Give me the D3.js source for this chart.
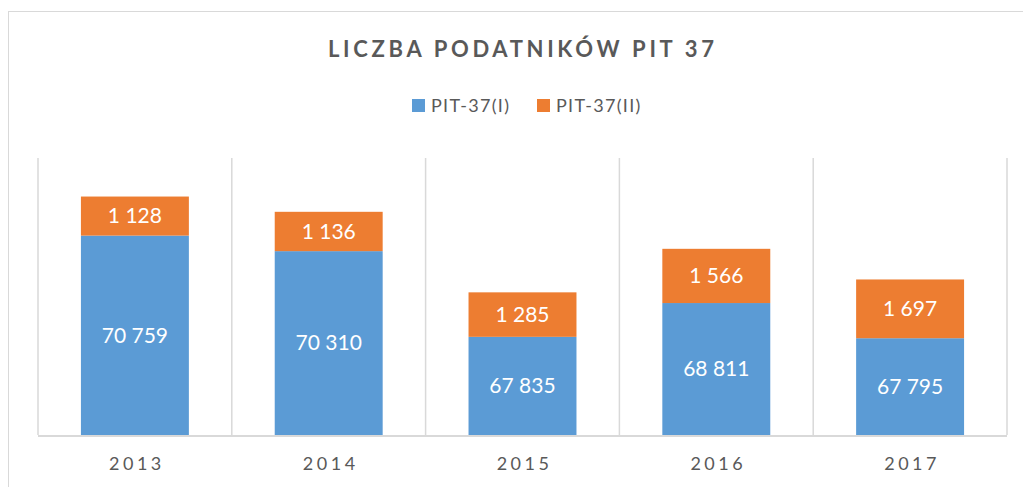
<!DOCTYPE html>
<html>
<head>
<meta charset="utf-8">
<script src="https://cdn.jsdelivr.net/npm/d3@7"></script>
<style>
  body { margin: 0; background: #fff; }
  svg { display: block; font-family: Lato, "Open Sans", sans-serif; }
</style>
</head>
<body>
<svg id="chart" width="1023" height="487"></svg>
<script>
var years = ["2013", "2014", "2015", "2016", "2017"];
var pit37I = [70759, 70310, 67835, 68811, 67795];
var pit37II = [1128, 1136, 1285, 1566, 1697];
var seriesNames = ["PIT-37(I)", "PIT-37(II)"];
var colors = ["#5B9BD5", "#ED7D31"];
var yDomain = [65000, 73000];

var svg = d3.select("#chart");
var W = 1023, H = 487;

// chart frame
svg.append("rect")
    .attr("x", 8.5).attr("y", 11.5)
    .attr("width", W + 10).attr("height", H + 10)
    .attr("fill", "#fff")
    .attr("stroke", "#d9d9d9");

var plot = {left: 38, right: 1007, top: 158, bottom: 435};

var x = d3.scaleBand()
    .domain(years)
    .range([plot.left, plot.right])
    .paddingInner(0)
    .paddingOuter(0);

var y = d3.scaleLinear()
    .domain(yDomain)
    .range([plot.bottom, plot.top]);

var fmt = function(v){
    return d3.format(",")(v).replace(/,/g, " ");
};

// vertical gridlines between categories
var bounds = years.map(function(d){ return x(d); }).concat([plot.right]);
svg.append("g").selectAll("line")
    .data(bounds)
    .enter().append("line")
    .attr("x1", function(d){ return d; })
    .attr("x2", function(d){ return d; })
    .attr("y1", plot.top)
    .attr("y2", plot.bottom)
    .attr("stroke", "#d9d9d9")
    .attr("stroke-width", 1.5);

// stacked data
var rows = years.map(function(yr, i){
    return {year: yr, a: pit37I[i], b: pit37II[i]};
});
var stack = d3.stack().keys(["a", "b"]);
var layers = stack(rows);

var barW = x.bandwidth() * 0.557;
var off = (x.bandwidth() - barW) / 2;

var layerG = svg.append("g").selectAll("g")
    .data(layers)
    .enter().append("g")
    .attr("fill", function(d, i){ return colors[i]; });

layerG.selectAll("rect")
    .data(function(d){ return d; })
    .enter().append("rect")
    .attr("x", function(d){ return x(d.data.year) + off; })
    .attr("width", barW)
    .attr("y", function(d){ return y(d[1]); })
    .attr("height", function(d){ return y(Math.max(d[0], yDomain[0])) - y(d[1]); });

layerG.selectAll("text")
    .data(function(d){ return d; })
    .enter().append("text")
    .attr("x", function(d){ return x(d.data.year) + x.bandwidth() / 2; })
    .attr("y", function(d){ return (y(Math.max(d[0], yDomain[0])) + y(d[1])) / 2; })
    .attr("dy", "0.35em")
    .attr("text-anchor", "middle")
    .attr("fill", "#fff")
    .attr("font-size", 21)
    .text(function(d){ return fmt(d[1] - d[0]); });

// baseline
svg.append("line")
    .attr("x1", plot.left).attr("x2", plot.right)
    .attr("y1", plot.bottom + 1).attr("y2", plot.bottom + 1)
    .attr("stroke", "#d9d9d9")
    .attr("stroke-width", 2);

// x axis labels
var xAxis = d3.axisBottom(x).tickSize(0).tickPadding(0);
var ax = svg.append("g")
    .attr("transform", "translate(2," + (plot.bottom + 22) + ")")
    .call(xAxis);
ax.select(".domain").remove();
ax.selectAll("text")
    .attr("font-family", "Lato, 'Open Sans', sans-serif")
    .attr("font-size", 18)
    .attr("fill", "#595959")
    .attr("letter-spacing", "3.5px");

// title - spread to the width seen in the picture
svg.append("text")
    .attr("x", 328).attr("y", 57)
    .attr("font-size", 22)
    .attr("font-weight", "bold")
    .attr("textLength", 386)
    .attr("lengthAdjust", "spacing")
    .attr("fill", "#595959")
    .text("LICZBA PODATNIKÓW PIT 37");

// legend
var legendX = [412, 537];
var leg = svg.append("g").selectAll("g")
    .data(seriesNames)
    .enter().append("g")
    .attr("transform", function(d, i){ return "translate(" + legendX[i] + ",99)"; });
leg.append("rect")
    .attr("width", 13).attr("height", 13)
    .attr("fill", function(d, i){ return colors[i]; });
leg.append("text")
    .attr("x", 19).attr("y", 13)
    .attr("font-size", 18)
    .attr("letter-spacing", "1.3px")
    .attr("fill", "#595959")
    .text(function(d){ return d; });
</script>
</body>
</html>
